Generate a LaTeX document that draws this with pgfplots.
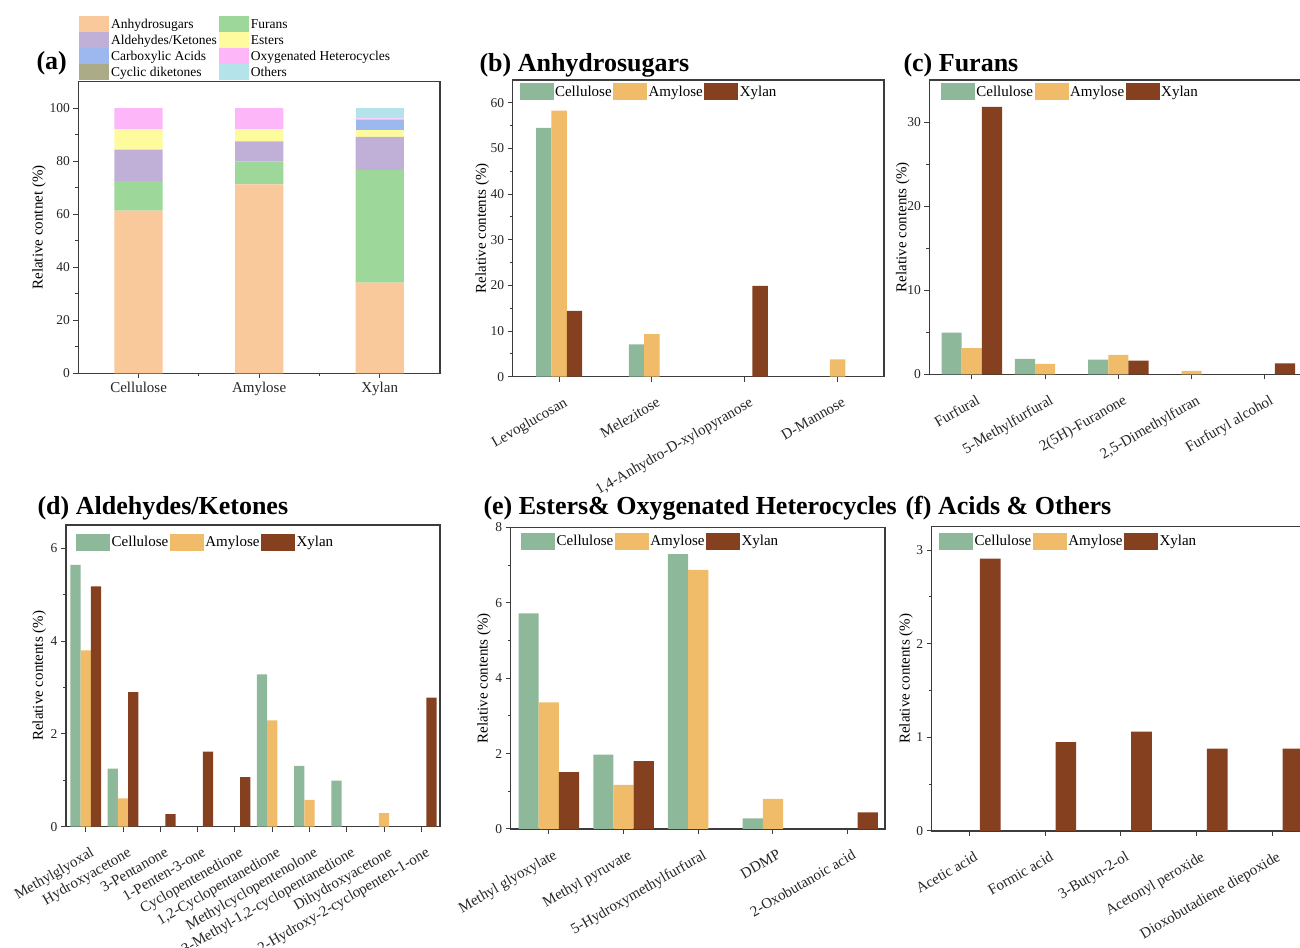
\documentclass[border=0pt]{standalone}
\usepackage{fontspec}
\setmainfont{Liberation Serif}
\usepackage{pgfplots}
\pgfplotsset{compat=1.18}

\definecolor{cCel}{RGB}{141,184,154}
\definecolor{cAmy}{RGB}{240,188,106}
\definecolor{cXyl}{RGB}{132,64,31}
\definecolor{cAnh}{RGB}{249,200,155}
\definecolor{cFur}{RGB}{157,216,154}
\definecolor{cAld}{RGB}{192,175,214}
\definecolor{cCar}{RGB}{157,184,238}
\definecolor{cCyc}{RGB}{171,171,136}
\definecolor{cEst}{RGB}{253,251,158}
\definecolor{cOxy}{RGB}{253,182,247}
\definecolor{cOth}{RGB}{180,228,234}
\definecolor{axgray}{RGB}{60,60,60}

\pgfplotsset{
  swatch/.style 2 args={legend image code/.code={\fill[##1] (0pt,-#2/2) rectangle (#1,#2/2);}},
  ylab/.style={every axis y label/.style={at={([xshift=-#1]axis description cs:0,0.5)}, rotate=90, anchor=center, font=\fontsize{15}{16}\selectfont}},
  base/.style={
    scale only axis, anchor=south west,
    axis line style={axgray, line width=1.1pt},
    tick style={axgray, line width=1pt},
    tick align=outside, major tick length=5pt, minor tick length=3pt,
    tick pos=left, ymin=0,
    yticklabel style={font=\fontsize{13.5}{14}\selectfont, text=black!85},
    xticklabel style={font=\fontsize{15}{16}\selectfont, text=black!85},
    /pgf/number format/assume math mode=true,
  },
  grp/.style={
    base, swatch={34pt}{17pt},
    xticklabel style={xshift=5pt, yshift=-10pt, rotate=30, anchor=north east},
    ylabel={Relative contents (\%)},
    legend columns=-1,
    legend style={draw=none, fill=none, at={(0,1)}, anchor=north west,
      inner sep=0pt, column sep=0pt,
      nodes={inner xsep=1.5pt, inner ysep=1pt, font=\fontsize{15}{16}\selectfont}},
  },
}

\begin{document}
\begin{tikzpicture}
\useasboundingbox (0pt,0pt) rectangle (1300pt,947pt);

% ---------------- (a)
\begin{axis}[base, at={(78.3pt,573.7pt)}, width=361.7pt, height=291.6pt,
  ybar stacked, bar width=0.4,
  xmin=-0.5, xmax=2.5, ymax=110,
  xtick={0,1,2}, xticklabels={Cellulose,Amylose,Xylan},
  minor xtick={0.5,1.5},
  ytick={0,20,...,100}, minor y tick num=1,
  ylabel={Relative contnet (\%)}, ylab=39.3pt,
  swatch={30pt}{16pt},
  legend columns=2, legend cell align=left,
  legend style={draw=none, fill=none, at={(0,1)}, anchor=south west, xshift=0.7pt, yshift=1pt,
    inner sep=0pt, column sep=0pt, row sep=0pt,
    nodes={inner xsep=2pt, inner ysep=1pt, font=\fontsize{13.5}{14}\selectfont}},
]
\addplot[fill=cAnh, draw=none] coordinates {(0,61.4) (1,71.3) (2,34.2)};
\addlegendentry{Anhydrosugars}
\addplot[fill=cFur, draw=none] coordinates {(0,11.1) (1,8.6) (2,42.4)};
\addlegendentry{Furans}
\addplot[fill=cAld, draw=none] coordinates {(0,11.9) (1,7.6) (2,12.6)};
\addlegendentry{Aldehydes/Ketones}
\addplot[fill=cEst, draw=none] coordinates {(0,7.7) (1,4.6) (2,2.5)};
\addlegendentry{Esters}
\addplot[fill=cCar, draw=none] coordinates {(0,0) (1,0) (2,3.9)};
\addlegendentry{Carboxylic Acids}
\addplot[fill=cOxy, draw=none] coordinates {(0,7.9) (1,7.9) (2,0.6)};
\addlegendentry{Oxygenated Heterocycles}
\addplot[fill=cCyc, draw=none] coordinates {(0,0) (1,0) (2,0)};
\addlegendentry{Cyclic diketones}
\addplot[fill=cOth, draw=none] coordinates {(0,0) (1,0) (2,3.8)};
\addlegendentry{Others}
\end{axis}
\node[anchor=west, font=\fontsize{26}{28}\selectfont\bfseries] at (33pt,884pt) {(a)};

% ---------------- (b)
\begin{axis}[grp, at={(512.7pt,570.3pt)}, width=371.3pt, height=296.7pt,
  xmin=-0.5, xmax=3.5, ymax=65,
  ytick={0,10,...,60}, minor y tick num=1,
  xtick={0,1,2,3}, ylab=30.4pt,
  xticklabels={Levoglucosan,Melezitose,{1,4-Anhydro-D-xylopyranose},D-Mannose},
  legend style={xshift=6.6pt, yshift=-3.3pt},
]
\addplot[ybar, bar width=0.166, bar shift=-0.166, fill=cCel, draw=none, forget plot] coordinates {(0,54.5) (1,7.1)};
\addplot[ybar, bar width=0.166, bar shift=0, fill=cAmy, draw=none, forget plot] coordinates {(0,58.3) (1,9.3) (3,3.8)};
\addplot[ybar, bar width=0.166, bar shift=0.166, fill=cXyl, draw=none, forget plot] coordinates {(0,14.4) (2,19.9)};
\addlegendimage{fill=cCel, draw=none}\addlegendentry{Cellulose}
\addlegendimage{fill=cAmy, draw=none}\addlegendentry{Amylose}
\addlegendimage{fill=cXyl, draw=none}\addlegendentry{Xylan}
\end{axis}
\node[anchor=west, font=\fontsize{26}{28}\selectfont\bfseries] at (476pt,882pt) {(b) Anhydrosugars};

% ---------------- (c)
\begin{axis}[grp, at={(929.3pt,572.7pt)}, width=378.1pt, height=294.3pt,
  xmin=-0.58, xmax=4.58, ymax=35,
  ytick={0,10,20,30}, minor y tick num=1,
  xtick={0,1,2,3,4}, ylab=26.6pt,
  xticklabels={Furfural,5-Methylfurfural,2(5H)-Furanone,{2,5-Dimethylfuran},Furfuryl alcohol},
  legend style={xshift=11.4pt, yshift=-3.3pt},
]
\addplot[ybar, bar width=0.275, bar shift=-0.275, fill=cCel, draw=none, forget plot] coordinates {(0,4.95) (1,1.82) (2,1.74)};
\addplot[ybar, bar width=0.275, bar shift=0, fill=cAmy, draw=none, forget plot] coordinates {(0,3.1) (1,1.23) (2,2.3) (3,0.4)};
\addplot[ybar, bar width=0.275, bar shift=0.275, fill=cXyl, draw=none, forget plot] coordinates {(0,31.8) (2,1.62) (4,1.3)};
\addlegendimage{fill=cCel, draw=none}\addlegendentry{Cellulose}
\addlegendimage{fill=cAmy, draw=none}\addlegendentry{Amylose}
\addlegendimage{fill=cXyl, draw=none}\addlegendentry{Xylan}
\end{axis}
\node[anchor=west, font=\fontsize{26}{28}\selectfont\bfseries] at (900pt,882pt) {(c) Furans};

% ---------------- (d)
\begin{axis}[grp, at={(66pt,120.3pt)}, width=374pt, height=301.7pt,
  xmin=-0.53, xmax=9.5, ymax=6.5,
  ytick={0,2,4,6}, minor y tick num=1,
  xtick={0,...,9}, ylab=26.7pt,
  xticklabels={Methylglyoxal,Hydroxyacetone,3-Pentanone,1-Penten-3-one,Cyclopentenedione,{1,2-Cyclopentanedione},Methylcyclopentenolone,{3-Methyl-1,2-cyclopentanedione},Dihydroxyacetone,2-Hydroxy-2-cyclopenten-1-one},
  legend style={xshift=10pt, yshift=-8.3pt},
]
\addplot[ybar, bar width=0.275, bar shift=-0.275, fill=cCel, draw=none, forget plot] coordinates {(0,5.64) (1,1.25) (5,3.28) (6,1.31) (7,0.99)};
\addplot[ybar, bar width=0.275, bar shift=0, fill=cAmy, draw=none, forget plot] coordinates {(0,3.80) (1,0.61) (5,2.29) (6,0.58) (8,0.29)};
\addplot[ybar, bar width=0.275, bar shift=0.275, fill=cXyl, draw=none, forget plot] coordinates {(0,5.18) (1,2.90) (2,0.27) (3,1.62) (4,1.07) (9,2.78)};
\addlegendimage{fill=cCel, draw=none}\addlegendentry{Cellulose}
\addlegendimage{fill=cAmy, draw=none}\addlegendentry{Amylose}
\addlegendimage{fill=cXyl, draw=none}\addlegendentry{Xylan}
\end{axis}
\node[anchor=west, font=\fontsize{26}{28}\selectfont\bfseries] at (34pt,439pt) {(d) Aldehydes/Ketones};

% ---------------- (e)
\begin{axis}[grp, at={(510.7pt,118pt)}, width=374.3pt, height=301.7pt,
  xmin=-0.51, xmax=4.5, ymax=8,
  ytick={0,2,4,6,8}, minor y tick num=1,
  xtick={0,1,2,3,4}, ylab=26.7pt,
  xticklabels={Methyl glyoxylate,Methyl pyruvate,5-Hydroxymethylfurfural,DDMP,2-Oxobutanoic acid},
  legend style={xshift=10.3pt, yshift=-5.3pt},
]
\addplot[ybar, bar width=0.27, bar shift=-0.27, fill=cCel, draw=none, forget plot] coordinates {(0,5.72) (1,1.97) (2,7.29) (3,0.28)};
\addplot[ybar, bar width=0.27, bar shift=0, fill=cAmy, draw=none, forget plot] coordinates {(0,3.36) (1,1.17) (2,6.87) (3,0.80)};
\addplot[ybar, bar width=0.27, bar shift=0.27, fill=cXyl, draw=none, forget plot] coordinates {(0,1.51) (1,1.80) (4,0.44)};
\addlegendimage{fill=cCel, draw=none}\addlegendentry{Cellulose}
\addlegendimage{fill=cAmy, draw=none}\addlegendentry{Amylose}
\addlegendimage{fill=cXyl, draw=none}\addlegendentry{Xylan}
\end{axis}
\node[anchor=west, font=\fontsize{26}{28}\selectfont\bfseries] at (480pt,439pt) {(e) Esters\& Oxygenated Heterocycles};

% ---------------- (f)
\begin{axis}[grp, at={(931.7pt,116pt)}, width=378.3pt, height=304.3pt,
  xmin=-0.5, xmax=4.5, ymax=3.25,
  ytick={0,1,2,3}, minor y tick num=1,
  xtick={0,1,2,3,4}, ylab=25.7pt,
  xticklabels={Acetic acid,Formic acid,3-Butyn-2-ol,Acetonyl peroxide,Dioxobutadiene diepoxide},
  legend style={xshift=7.3pt, yshift=-6pt},
]
\addplot[ybar, bar width=0.273, bar shift=0.273, fill=cXyl, draw=none, forget plot] coordinates {(0,2.91) (1,0.95) (2,1.06) (3,0.88) (4,0.88)};
\addlegendimage{fill=cCel, draw=none}\addlegendentry{Cellulose}
\addlegendimage{fill=cAmy, draw=none}\addlegendentry{Amylose}
\addlegendimage{fill=cXyl, draw=none}\addlegendentry{Xylan}
\end{axis}
\node[anchor=west, font=\fontsize{26}{28}\selectfont\bfseries] at (902pt,439pt) {(f) Acids \& Others};

\end{tikzpicture}
\end{document}
